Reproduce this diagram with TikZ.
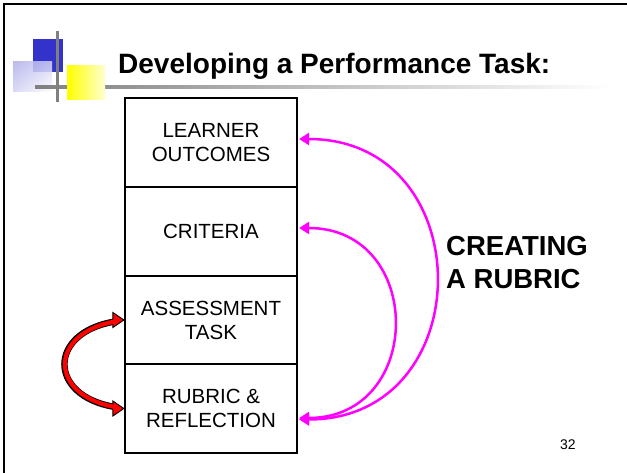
\documentclass[tikz,border=0pt]{standalone}
\usepackage{fontspec}
\setmainfont{Liberation Sans}
\usetikzlibrary{arrows.meta,calc,shadings}
\definecolor{logoblue}{HTML}{3333CC}
\definecolor{lav}{HTML}{B0B0EC}
\definecolor{mag}{HTML}{FF00FF}
\definecolor{lgray}{HTML}{808080}
\tikzset{
  stage/.style={draw=black, line width=2.2pt, minimum width=172pt, inner sep=0pt, align=center,
    font=\fontsize{20.5}{24}\selectfont},
  magarrow/.style={draw=mag, line width=2.5pt, {Triangle[length=10pt,width=12pt]}-{Triangle[length=10pt,width=12pt]}},
  redhead/.style={draw=black, line width=0.9pt, fill=red, line join=miter},
}
\begin{document}
\begin{tikzpicture}[x=1pt,y=-1pt]
\useasboundingbox (0,0) rectangle (627,473);
\fill[white] (0,0) rectangle (627,473);
% slide frame
\draw[line width=2.3pt] (4,473) -- (4,4.3) -- (627,4.3);
% logo
\fill[logoblue] (33,39) rectangle (63,72);
\shade[upper left=lav, upper right=lav!55!white, lower left=lav!55!white, lower right=white, opacity=0.85] (13,62) rectangle (52,92);
\shade[left color=lgray, right color=white] (35,85.6) rectangle (610,88.6);
\draw[lgray, line width=3pt] (57,31) -- (57,102);
\shade[left color=yellow, right color=yellow!18!white] (67,66) rectangle (105,100);
% title
\node[anchor=base west, inner sep=0pt, font=\fontsize{28}{32}\selectfont\bfseries] (title) at (118,73.3) {Developing a Performance Task:};
% boxes
\node[stage, minimum height=89pt] (outcomes) at (211,142.5) {LEARNER\\OUTCOMES};
\node[stage, minimum height=89pt] (criteria) at (211,231.5) {CRITERIA};
\node[stage, minimum height=88pt] (task) at (211,320) {ASSESSMENT\\TASK};
\node[stage, minimum height=89pt] (rubric) at (211,408.5) {RUBRIC \&\\REFLECTION};
% side label
\node[anchor=north west, inner sep=0pt, align=left, font=\fontsize{27.5}{33}\selectfont\bfseries] (creating) at (446,236) {CREATING\\A RUBRIC};
% page number
\node[anchor=base west, inner sep=0pt, font=\fontsize{14}{16}\selectfont] (num) at (560,449) {32};
% magenta arcs
\draw[magarrow] ($(rubric.east)+(1,11)$) .. controls +(182,0) and +(182,0) .. ($(outcomes.east)+(1,-3.5)$);
\draw[magarrow] ($(rubric.east)+(1,9.5)$) .. controls +(126,0) and +(126,0) .. ($(criteria.east)+(1,-3.5)$);
% red arc
\def\redpath{(task.west) .. controls ($(task.west)+(-76,13)$) and ($(rubric.west)+(-76,-13)$) .. (rubric.west)}
\draw[black, line width=6.4pt, shorten >=10pt, shorten <=10pt] \redpath;
\draw[redhead] (task.west) -- ++(-11,-7.5) -- ++(0,15) -- cycle;
\draw[redhead] (rubric.west) -- ++(-11,-7.5) -- ++(0,15) -- cycle;
\draw[red, line width=4.2pt, shorten >=8pt, shorten <=8pt] \redpath;
\end{tikzpicture}
\end{document}
